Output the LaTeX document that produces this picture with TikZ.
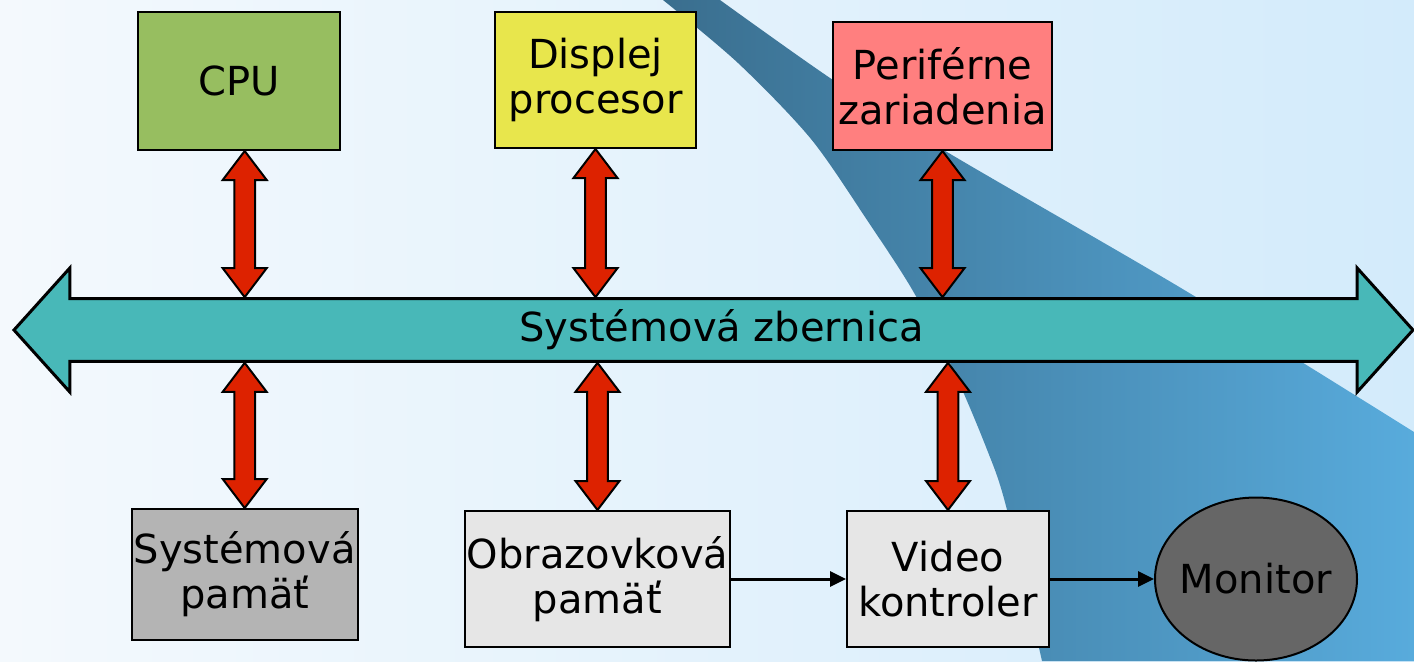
\documentclass[tikz,border=0pt]{standalone}
\usepackage{fontspec}
\setmainfont{DejaVu Sans}
\usetikzlibrary{calc,shapes.geometric,shapes.arrows,arrows.meta}
\definecolor{bgleft}{HTML}{F4F9FD}
\definecolor{bgright}{HTML}{D3EBFB}
\definecolor{wavedark}{HTML}{3A6E8E}
\definecolor{wavelight}{HTML}{58ABDC}
\definecolor{cpugreen}{HTML}{97BE60}
\definecolor{dispyellow}{HTML}{E8E64C}
\definecolor{perred}{HTML}{FF7F7F}
\definecolor{memgray}{HTML}{B4B4B4}
\definecolor{lightbox}{HTML}{E6E6E6}
\definecolor{mongray}{HTML}{666666}
\definecolor{busteal}{HTML}{48B8B8}
\definecolor{linkred}{HTML}{DD2200}
\tikzset{
	label/.style={font=\fontsize{20}{22.5}\selectfont, align=center, inner sep=1pt},
	box/.style={label, draw=black, line width=1pt, rectangle},
	bus/.style={label, double arrow, draw=black, line width=1.5pt, fill=busteal,
		minimum height=699.5pt, minimum width=62pt, double arrow head extend=14.5pt,
		double arrow tip angle=96, inner xsep=0pt, inner ysep=4pt},
	redarrow/.style={draw=black, line width=1pt, fill=linkred, line join=miter},
	flow/.style={line width=1.5pt, -{Triangle[length=8pt,width=7.5pt]}}
}
% x from the first point, tips at the y of both points
\def\dualarrow(#1)(#2){\draw[redarrow] let \p1=(#1), \p2=(#2) in
	(\x1,\y1) -- (\x1+11pt,\y1-14.5pt) -- (\x1+5.2pt,\y1-14.5pt) -- (\x1+5.2pt,\y2+14.5pt)
	-- (\x1+11pt,\y2+14.5pt) -- (\x1,\y2) -- (\x1-11pt,\y2+14.5pt) -- (\x1-5.2pt,\y2+14.5pt)
	-- (\x1-5.2pt,\y1-14.5pt) -- (\x1-11pt,\y1-14.5pt) -- cycle;}

\begin{document}
\begin{tikzpicture}[x=0.5pt, y=-0.5pt]
	%%%%% BACKGROUND %%%%%
	\useasboundingbox (0,0) rectangle (1414,661);
	\shade[left color=bgleft, right color=bgright] (0,0) rectangle (1414,661);
	\shade[left color=wavedark, right color=wavelight] (663,0)
		-- plot[smooth] coordinates {(720,0) (833,80) (947,152) (1186,291) (1414,432)}
		-- (1414,661)
		-- plot[smooth] coordinates {(1042,661) (1006,506) (986,447) (952,367) (913,291) (869,223) (811,139) (738,63) (663,0)}
		-- cycle;
	
	%%%%% BUS %%%%%
	\node[bus] (bus) at (713.5,330) {\hspace*{8pt}Systémová zbernica};
	
	%%%%% UNITS %%%%%
	\node[box, fill=cpugreen, minimum width=101pt, minimum height=69pt] (cpu) at (239,81) {CPU};
	\node[box, fill=dispyellow, minimum width=100.5pt, minimum height=68pt] (disp) at (595.5,80) {Displej\\procesor};
	\node[box, fill=perred, minimum width=109.5pt, minimum height=64pt] (per) at (942.5,86) {Periférne\\zariadenia};
	\node[box, fill=memgray, minimum width=113pt, minimum height=65.5pt] (sysmem) at (244.7,574.5) {Systémová\\pamäť};
	\node[box, fill=lightbox, minimum width=132.5pt, minimum height=68pt] (vram) at (597.5,579) {Obrazovková\\pamäť};
	\node[box, fill=lightbox, minimum width=101pt, minimum height=68pt] (video) at (948,579) {Video\\kontroler};
	\node[label, ellipse, draw=black, line width=1pt, fill=mongray, inner xsep=-4pt, inner ysep=0pt,
		minimum width=101pt, minimum height=81.5pt] (monitor) at (1256,579) {Monitor};
	
	%%%%% LINKS %%%%%
	\dualarrow(sysmem.north |- cpu.south)(bus.north)
	\dualarrow(disp.south)(bus.north)
	\dualarrow(per.south)(bus.north)
	\dualarrow(bus.south -| sysmem.north)(sysmem.north)
	\dualarrow(bus.south -| vram.north)(vram.north)
	\dualarrow(bus.south -| video.north)(video.north)
	
	\draw[flow] (vram.east) -- (video.west);
	\draw[flow] (video.east) -- (monitor.west);
\end{tikzpicture}
\end{document}
